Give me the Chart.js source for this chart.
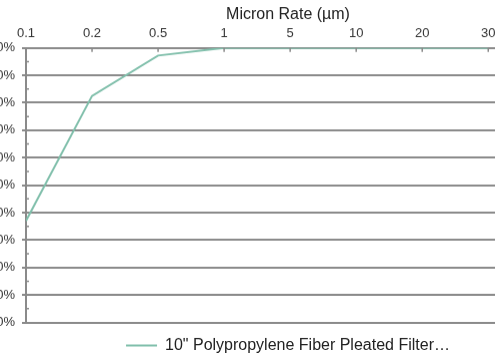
<!DOCTYPE html>
<html lang="en">
<head>
<meta charset="UTF-8">
<title>Micron Rate</title>
<script src="https://cdn.jsdelivr.net/npm/chart.js"></script>
<style>
    body { margin: 0; overflow: hidden; background: #fff; width: 495px; height: 358px; position: relative; }
    #wrap { position: absolute; left: -16px; top: 0; width: 608px; height: 362.5px; }
</style>
</head>
<body>
<div id="wrap"><canvas id="micronChart"></canvas></div>
<script>
const micronLabels = ['0.1', '0.2', '0.5', '1', '5', '10', '20', '30'];
const retention = [0.37, 0.825, 0.972, 1, 1, 1, 1, 1];
const seriesName = '10" Polypropylene Fiber Pleated Filter\u2026';
const axisTitle = 'Micron Rate (\u00b5m)';

const lineColor = '#80bfab';
const gridColor = '#8a8a8a';

// small inward tick marks (top axis categories, y minor ticks)
const innerTicks = {
    id: 'innerTicks',
    afterDatasetsDraw(chart) {
        const { ctx, chartArea, scales: { x, y } } = chart;
        ctx.save();
        ctx.strokeStyle = gridColor;
        ctx.lineWidth = 1.5;
        ctx.beginPath();
        micronLabels.forEach((l, i) => {
            const px = x.getPixelForValue(i);
            ctx.moveTo(px, chartArea.top);
            ctx.lineTo(px, chartArea.top + 4);
        });
        for (let i = 0; i < 10; i++) {
            const py = y.getPixelForValue(i / 10 + 0.05);
            ctx.moveTo(chartArea.left, py);
            ctx.lineTo(chartArea.left + 3, py);
        }
        ctx.stroke();
        ctx.restore();
    }
};

Chart.defaults.font.family = 'Arial, "Liberation Sans", sans-serif';
Chart.defaults.color = '#222';

new Chart(document.getElementById('micronChart'), {
    type: 'line',
    data: {
        datasets: [{
            label: seriesName,
            data: retention.map((v, i) => ({ x: i, y: v })),
            borderColor: lineColor,
            backgroundColor: lineColor,
            borderWidth: 2,
            pointRadius: 0,
            tension: 0
        }]
    },
    options: {
        responsive: true,
        maintainAspectRatio: false,
        animation: false,
        layout: { padding: 0 },
        plugins: {
            title: {
                display: true,
                text: axisTitle,
                font: { size: 16, weight: 'normal' },
                color: '#222',
                padding: { top: 5, bottom: 0 }
            },
            legend: {
                position: 'bottom',
                labels: {
                    usePointStyle: true,
                    pointStyle: 'line',
                    pointStyleWidth: 31,
                    font: { size: 16 },
                    color: '#222',
                    padding: 15
                }
            },
            tooltip: { enabled: false }
        },
        scales: {
            x: {
                type: 'linear',
                position: 'top',
                min: 0,
                max: 8.48,
                afterFit: s => { s.height = 23.5; },
                ticks: {
                    stepSize: 1,
                    autoSkip: false,
                    font: { size: 13 },
                    color: '#333',
                    padding: 6,
                    callback: v => micronLabels[v] ?? ''
                },
                grid: { display: false, drawTicks: false },
                border: { display: false }
            },
            y: {
                min: 0,
                max: 1,
                afterFit: s => { s.width = 42; },
                ticks: {
                    stepSize: 0.1,
                    font: { size: 13 },
                    color: '#333',
                    padding: 7,
                    callback: v => Math.round(v * 100) + '%'
                },
                grid: { color: gridColor, lineWidth: 2, tickLength: 4 },
                border: { color: gridColor, width: 2 }
            }
        }
    },
    plugins: [innerTicks]
});
</script>
</body>
</html>
